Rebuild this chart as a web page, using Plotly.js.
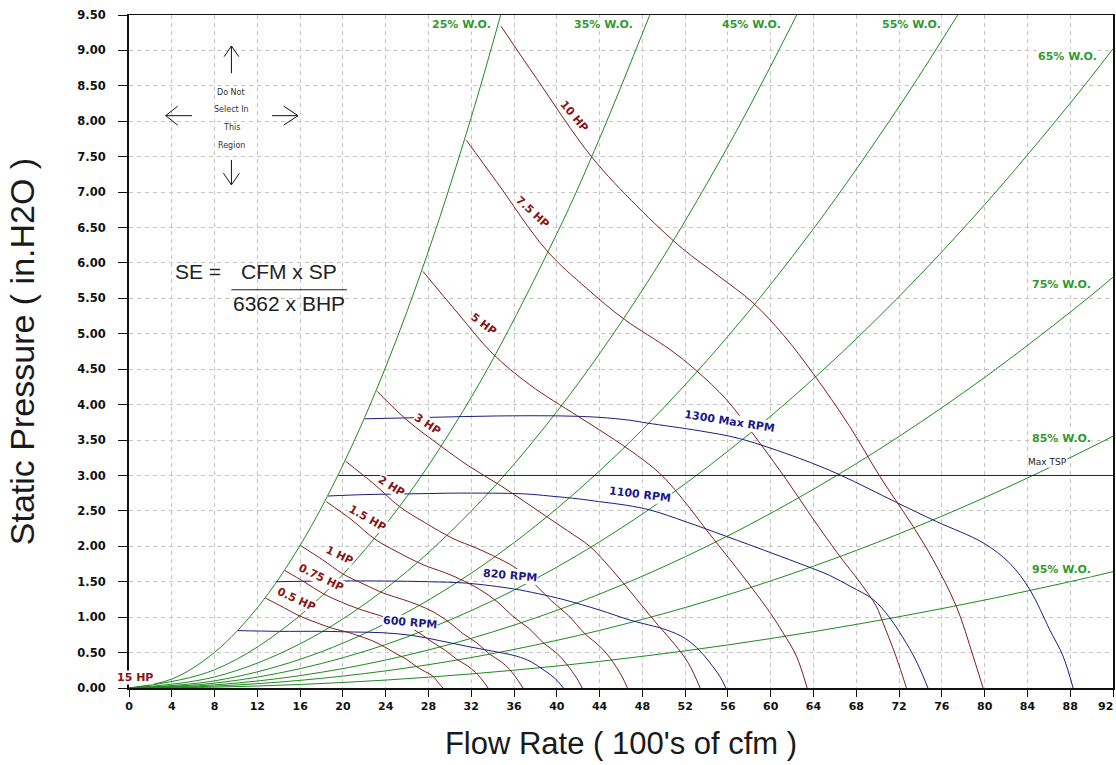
<!DOCTYPE html>
<html>
<head>
<meta charset="utf-8">
<script src="https://cdn.plot.ly/plotly-3.0.1.min.js"></script>
<style>html,body{margin:0;padding:0;background:#fff;}#chart{width:1116px;height:765px;}</style>
</head>
<body>
<div id="chart"></div>
<script>
// ---------- DATA (flow in 100's of cfm, static pressure in in.H2O) ----------
const xTicks = [0,4,8,12,16,20,24,28,32,36,40,44,48,52,56,60,64,68,72,76,80,84,88,92];

// System / wide-open curves
const wo25Q = [0, 4, 8, 12, 16, 20, 24, 28, 32, 34.75];
const wo25P = [0, 0.126, 0.503, 1.133, 2.014, 3.147, 4.531, 6.168, 8.056, 9.50];
const wo35Q = [0, 8, 16, 24, 32, 40, 44, 48.69];
const wo35P = [0, 0.257, 1.026, 2.309, 4.104, 6.413, 7.760, 9.50];
const wo45Q = [0, 8, 16, 24, 32, 40, 48, 56, 62.43];
const wo45P = [0, 0.156, 0.624, 1.404, 2.497, 3.901, 5.617, 7.645, 9.50];
const wo55Q = [0, 8, 16, 24, 32, 40, 48, 56, 64, 72, 77.48];
const wo55P = [0, 0.101, 0.405, 0.912, 1.621, 2.533, 3.647, 4.964, 6.484, 8.207, 9.50];
const wo65Q = [0, 8, 16, 24, 32, 40, 48, 56, 64, 72, 80, 88, 92];
const wo65P = [0, 0.068, 0.273, 0.614, 1.092, 1.706, 2.456, 3.343, 4.366, 5.526, 6.822, 8.255, 9.023];
const wo75Q = [0, 8, 16, 24, 32, 40, 48, 56, 64, 72, 80, 88, 92];
const wo75P = [0, 0.044, 0.175, 0.395, 0.701, 1.096, 1.578, 2.148, 2.806, 3.551, 4.384, 5.305, 5.798];
const wo85Q = [0, 8, 16, 24, 32, 40, 48, 56, 64, 72, 80, 88, 92];
const wo85P = [0, 0.027, 0.108, 0.242, 0.430, 0.672, 0.968, 1.317, 1.720, 2.177, 2.688, 3.252, 3.555];
const wo95Q = [0, 8, 16, 24, 32, 40, 48, 56, 64, 72, 80, 88, 92];
const wo95P = [0, 0.012, 0.050, 0.112, 0.199, 0.310, 0.447, 0.608, 0.795, 1.006, 1.242, 1.502, 1.642];

// Constant brake-horsepower curves
const hp05Q = [12.75, 14.41, 15.9, 17.4, 19.06, 20.4, 21.4, 22.7, 23.9, 24.9, 25.9, 26.9, 27.7, 28.4, 29.0, 29.36];
const hp05P = [1.27, 1.14, 1.02, 0.93, 0.84, 0.79, 0.74, 0.67, 0.58, 0.49, 0.41, 0.30, 0.23, 0.17, 0.06, 0];
const hp075Q = [14.56, 16.46, 18.17, 19.88, 21.8, 23.3, 24.45, 25.97, 27.3, 28.44, 29.58, 30.7, 31.67, 32.4, 33.2, 33.57];
const hp075P = [1.66, 1.49, 1.33, 1.21, 1.10, 1.03, 0.97, 0.88, 0.76, 0.64, 0.53, 0.40, 0.31, 0.22, 0.08, 0];
const hp1Q = [16.05, 18.1, 20.0, 21.9, 23.95, 25.6, 26.9, 28.5, 30.0, 31.2, 32.5, 33.7, 34.8, 35.6, 36.4, 36.84];
const hp1P = [2.01, 1.81, 1.61, 1.47, 1.33, 1.25, 1.18, 1.07, 0.92, 0.77, 0.64, 0.48, 0.37, 0.26, 0.10, 0];
const hp15Q = [18.46, 20.85, 23.0, 25.1, 27.5, 29.5, 30.9, 32.8, 34.5, 35.9, 37.4, 38.8, 40.0, 40.9, 41.9, 42.37];
const hp15P = [2.63, 2.37, 2.10, 1.92, 1.74, 1.63, 1.54, 1.39, 1.21, 1.01, 0.84, 0.63, 0.49, 0.34, 0.13, 0];
const hp2Q = [20.26, 22.9, 25.3, 27.6, 30.3, 32.4, 34.0, 36.1, 37.9, 39.5, 41.1, 42.6, 44.0, 45.0, 46.1, 46.6];
const hp2P = [3.20, 2.88, 2.56, 2.34, 2.11, 1.98, 1.87, 1.70, 1.47, 1.23, 1.02, 0.77, 0.59, 0.42, 0.16, 0];
const hp3Q = [23.19, 26.0, 29.2, 31.9, 34.5, 37.0, 39.03, 41.0, 43.08, 44.5, 46.0, 47.75, 49.5, 51.0, 52.3, 53.4];
const hp3P = [4.19, 3.78, 3.41, 3.12, 2.88, 2.63, 2.42, 2.22, 2.00, 1.78, 1.52, 1.20, 0.88, 0.62, 0.35, 0];
const hp5Q = [27.49, 30.8, 34.0, 37.47, 41.83, 44.01, 46.8, 49.62, 51.8, 53.99, 56.2, 58.35, 60.0, 61.15, 62.4, 63.4];
const hp5P = [5.88, 5.28, 4.72, 4.28, 3.85, 3.64, 3.36, 3.03, 2.66, 2.23, 1.81, 1.39, 1.05, 0.78, 0.45, 0];
const hp75Q = [31.55, 34.35, 39.03, 42.8, 46.35, 50.56, 53.05, 55.86, 58.97, 61.47, 63.9, 66.45, 68.3, 69.88, 70.5, 71.7, 72.69];
const hp75P = [7.73, 7.15, 6.18, 5.64, 5.20, 4.78, 4.48, 4.07, 3.46, 2.94, 2.40, 1.86, 1.50, 1.15, 0.92, 0.45, 0];
const hp10Q = [34.79, 38.12, 43.24, 47.51, 51.77, 55.0, 58.32, 61.2, 63.96, 67.39, 70.19, 73.31, 75.18, 77.36, 78.92, 79.85];
const hp10P = [9.34, 8.60, 7.50, 6.80, 6.20, 5.83, 5.44, 4.98, 4.44, 3.69, 2.99, 2.28, 1.81, 1.15, 0.45, 0];

// Fan speed curves
const rpm600Q = [10.19, 14, 18, 21, 23.75, 26.56, 29.0, 31.55, 34.0, 36.22, 37.6, 38.71, 39.8, 40.62];
const rpm600P = [0.81, 0.80, 0.80, 0.79, 0.78, 0.74, 0.67, 0.59, 0.52, 0.45, 0.37, 0.26, 0.14, 0];
const rpm820Q = [13.78, 18, 24, 28, 31.55, 35.9, 38.3, 40.58, 44.01, 46.82, 50.25, 52.0, 53.4, 54.6, 55.3, 55.8];
const rpm820P = [1.50, 1.51, 1.51, 1.50, 1.48, 1.40, 1.33, 1.25, 1.10, 0.96, 0.82, 0.70, 0.52, 0.30, 0.15, 0];
const rpm1100Q = [18.61, 22, 26, 30, 34, 37, 39.34, 42, 44.01, 46.5, 48.79, 52, 55.86, 60, 63.34, 65.5, 67.5, 69.57, 71.13, 72.69, 73.7, 74.7];
const rpm1100P = [2.71, 2.73, 2.74, 2.75, 2.75, 2.74, 2.71, 2.67, 2.63, 2.58, 2.51, 2.35, 2.14, 1.91, 1.72, 1.59, 1.43, 1.25, 0.99, 0.63, 0.35, 0];
const rpm1300Q = [22.04, 28.12, 34.35, 40.58, 44.01, 46.82, 48.45, 53.36, 57.1, 62.71, 66.45, 71.75, 75.49, 79.85, 82.35, 84.22, 86.09, 87.33, 88.27];
const rpm1300P = [3.80, 3.82, 3.84, 3.84, 3.82, 3.78, 3.74, 3.63, 3.52, 3.24, 3.01, 2.62, 2.35, 2.05, 1.76, 1.39, 0.82, 0.45, 0];

// Maximum total static pressure
const maxTspQ = [19.6, 92];
const maxTspP = [3.0, 3.0];

// ---------- STYLE ----------
const GREEN = '#1f8a1f', MAROON = '#7f1d1d', NAVY = '#1c1c80';
const LBL_FONT = 'DejaVu Sans, Verdana, sans-serif';

const series = [
  [wo25Q, wo25P, GREEN], [wo35Q, wo35P, GREEN], [wo45Q, wo45P, GREEN], [wo55Q, wo55P, GREEN],
  [wo65Q, wo65P, GREEN], [wo75Q, wo75P, GREEN], [wo85Q, wo85P, GREEN], [wo95Q, wo95P, GREEN],
  [maxTspQ, maxTspP, '#222222'],
  [rpm600Q, rpm600P, NAVY], [rpm820Q, rpm820P, NAVY], [rpm1100Q, rpm1100P, NAVY], [rpm1300Q, rpm1300P, NAVY],
  [hp05Q, hp05P, MAROON], [hp075Q, hp075P, MAROON], [hp1Q, hp1P, MAROON], [hp15Q, hp15P, MAROON],
  [hp2Q, hp2P, MAROON], [hp3Q, hp3P, MAROON], [hp5Q, hp5P, MAROON], [hp75Q, hp75P, MAROON], [hp10Q, hp10P, MAROON]
];
const traces = series.map(s => ({
  x: s[0], y: s[1], type: 'scatter', mode: 'lines',
  line: {color: s[2], width: 1, shape: 'spline', smoothing: 1.0},
  hoverinfo: 'skip', showlegend: false
}));

function lbl(text, x, y, color, angle, size, bold) {
  return {text: text, x: x, y: y, xref: 'x', yref: 'y', showarrow: false,
    textangle: angle || 0, bgcolor: 'rgba(255,255,255,1)', borderpad: 0,
    font: {family: LBL_FONT, size: size || 11, color: color, weight: bold === false ? 'normal' : 'bold'}};
}
const WOC = '#2f9a2f', HPC = '#8b1414', RPMC = '#1a1a8a';
const lastTick = xTicks[xTicks.length - 1];
const annotations = [
  lbl('25% W.O.', 31.1, 9.36, WOC), lbl('35% W.O.', 44.39, 9.36, WOC), lbl('45% W.O.', 58.2, 9.36, WOC),
  lbl('55% W.O.', 73.2, 9.36, WOC), lbl('65% W.O.', 87.7, 8.91, WOC), lbl('75% W.O.', 87.2, 5.69, WOC),
  lbl('85% W.O.', 87.2, 3.52, WOC), lbl('95% W.O.', 87.2, 1.67, WOC),
  lbl('10 HP', 41.64, 8.07, HPC, 50), lbl('7.5 HP', 37.75, 6.71, HPC, 43), lbl('5 HP', 33.17, 5.13, HPC, 37),
  lbl('3 HP', 27.93, 3.72, HPC, 34), lbl('2 HP', 24.56, 2.85, HPC, 32), lbl('1.5 HP', 22.32, 2.39, HPC, 30),
  lbl('1 HP', 19.70, 1.87, HPC, 26), lbl('0.75 HP', 17.92, 1.56, HPC, 26), lbl('0.5 HP', 15.68, 1.25, HPC, 25),
  lbl('15 HP', 0.55, 0.145, HPC, 0),
  lbl('600 RPM', 26.25, 0.92, RPMC, 5), lbl('820 RPM', 35.6, 1.585, RPMC, 5),
  lbl('1100 RPM', 47.75, 2.73, RPMC, 7), lbl('1300 Max RPM', 56.17, 3.76, RPMC, 9),
  lbl('Max TSP', 85.9, 3.19, '#222222', 0, 9, false),
  lbl('Do Not', 9.575, 8.405, '#333333', 0, 8, false), lbl('Select In', 9.575, 8.16, '#333333', 0, 8, false),
  lbl('This', 9.575, 7.91, '#333333', 0, 8, false), lbl('Region', 9.575, 7.657, '#333333', 0, 8, false),
  {text: 'SE =', x: 6.45, y: 5.878, xref: 'x', yref: 'y', showarrow: false,
    font: {family: 'Liberation Sans, Arial, sans-serif', size: 21, color: '#222222'}},
  {text: 'CFM x SP', x: 14.95, y: 5.878, xref: 'x', yref: 'y', showarrow: false,
    font: {family: 'Liberation Sans, Arial, sans-serif', size: 21, color: '#222222'}},
  {text: '6362 x BHP', x: 14.95, y: 5.432, xref: 'x', yref: 'y', showarrow: false,
    font: {family: 'Liberation Sans, Arial, sans-serif', size: 21, color: '#222222'}},
  // last x tick label, right-aligned at its tick so that it stays inside the picture
  {text: String(lastTick), x: lastTick, y: 0, xref: 'x', yref: 'paper', xanchor: 'right', yanchor: 'top',
    xshift: 2, yshift: -10, showarrow: false,
    font: {family: LBL_FONT, size: 11, color: '#111111', weight: 'bold'}}
];

const ln = {color: '#111111', width: 1};
const shapes = [
  {type: 'line', xref: 'x', yref: 'y', x0: 9.575, x1: 20.38, y0: 5.622, y1: 5.622, line: {color: '#222222', width: 1.2}},
  {type: 'path', xref: 'x', yref: 'y', path: 'M9.575,8.678 L9.575,9.063 M8.892,8.912 L9.575,9.063 L10.258,8.912', line: ln},
  {type: 'path', xref: 'x', yref: 'y', path: 'M9.575,7.454 L9.575,7.102 M8.827,7.267 L9.575,7.102 L10.323,7.267', line: ln},
  {type: 'path', xref: 'x', yref: 'y', path: 'M5.891,8.079 L3.431,8.079 M4.553,8.213 L3.431,8.079 L4.553,7.945', line: ln},
  {type: 'path', xref: 'x', yref: 'y', path: 'M13.371,8.079 L15.802,8.079 M14.465,8.213 L15.802,8.079 L14.465,7.945', line: ln}
];

const xTickText = xTicks.map(v => v === lastTick ? '' : String(v));

const layout = {
  width: 1116, height: 765,
  margin: {l: 129, r: 3, t: 15, b: 77, pad: 0},
  paper_bgcolor: '#ffffff', plot_bgcolor: '#ffffff',
  showlegend: false,
  xaxis: {
    range: [0, 92], tickvals: xTicks, ticktext: xTickText,
    showgrid: true, gridcolor: '#c4c4c4', griddash: '4px,4px', gridwidth: 1,
    zeroline: false, showline: true, mirror: true, linecolor: '#111111', linewidth: 1.5,
    ticks: 'outside', ticklen: 7, tickcolor: '#111111', tickwidth: 1,
    tickfont: {family: LBL_FONT, size: 11, color: '#111111', weight: 'bold'},
    title: {text: "Flow Rate ( 100's of cfm )", standoff: 20,
      font: {family: 'Liberation Sans, Arial, sans-serif', size: 31, color: '#1a1a1a'}}
  },
  yaxis: {
    range: [0, 9.5], dtick: 0.5, tick0: 0, tickformat: '.2f',
    showgrid: true, gridcolor: '#c4c4c4', griddash: '4px,4px', gridwidth: 1,
    zeroline: false, showline: true, mirror: true, linecolor: '#111111', linewidth: 2,
    ticks: 'outside', ticklen: 9, tickcolor: '#111111', tickwidth: 1,
    ticklabelstandoff: 10,
    tickfont: {family: LBL_FONT, size: 11.5, color: '#111111', weight: 'bold'},
    title: {text: 'Static Pressure ( in.H2O )', standoff: 32,
      font: {family: 'Liberation Sans, Arial, sans-serif', size: 34, color: '#1a1a1a'}}
  },
  annotations: annotations,
  shapes: shapes
};

Plotly.newPlot('chart', traces, layout, {staticPlot: true, displayModeBar: false});
</script>
</body>
</html>
